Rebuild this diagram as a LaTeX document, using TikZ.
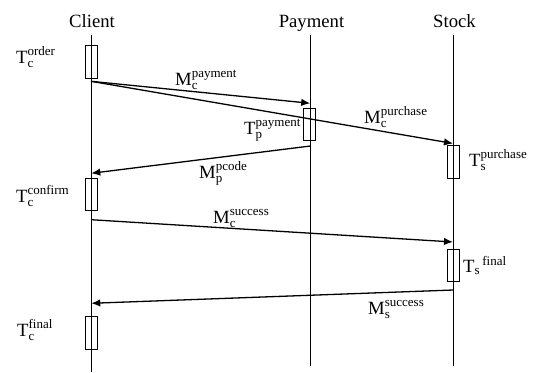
\documentclass[tikz,border=0pt]{standalone}
\usepackage{amsmath}
\usepackage{fontspec}
\setmainfont{Liberation Serif}
\usetikzlibrary{arrows.meta}
\DeclareMathSizes{18.7}{18.7}{13}{10}
\newcommand{\lbl}[3]{$\text{#1}_{\text{#2}}^{\text{#3}}$}
\newcommand{\lblsep}[3]{$\text{#1}_{\text{#2}}{}^{\text{#3}}$}
\tikzset{
  txt/.style={font=\fontsize{18.7}{22}\selectfont, inner sep=0pt, anchor=base west},
  title/.style={font=\fontsize{18.7}{22}\selectfont, inner sep=0pt, anchor=base},
  life/.style={line width=0.9pt},
  act/.style={draw, line width=0.9pt, minimum width=12pt, minimum height=32.5pt, inner sep=0pt},
  msg/.style={line width=1.3pt, -{Latex[length=9pt,width=7.5pt]}, shorten >=0.3pt}
}
\begin{document}
\begin{tikzpicture}[x=1pt,y=-1pt]
\useasboundingbox (0,0) rectangle (534,372);

% participants
\node[title] (client)  at (92,27.3)  {Client};
\node[title] (payment) at (311.5,27.3) {Payment};
\node[title] (stock)   at (454.5,27.3) {Stock};

% lifelines
\coordinate (cTop) at (91,35);    \coordinate (cBot) at (91,372);
\coordinate (pTop) at (310.5,35); \coordinate (pBot) at (310.5,366);
\coordinate (sTop) at (453.3,35); \coordinate (sBot) at (453.3,366);
\draw[life] (cTop) -- (cBot);
\draw[life] (pTop) -- (pBot);
\draw[life] (sTop) -- (sBot);

% activations
\node[act] (tcorder)   at (91,62)      {};
\node[act] (tppay)     at (309.3,124.6) {};
\node[act] (tspurch)   at (453.3,162)  {};
\node[act] (tcconfirm) at (91,194.3)   {};
\node[act] (tsfinal)   at (453.3,265.5) {};
\node[act] (tcfinal)   at (91,333)     {};

% message end points on the lifelines
\coordinate (m1a) at (91,81.3);    \coordinate (m1b) at (310.5,103.3);
\coordinate (m2b) at (453.3,143.5);
\coordinate (m3a) at (310.5,146);  \coordinate (m3b) at (91,173.3);
\coordinate (m4a) at (91,219.7);   \coordinate (m4b) at (453.3,242);
\coordinate (m5a) at (453.3,290);  \coordinate (m5b) at (91,303.3);

% messages
\draw[msg] (m1a) -- (m1b);
\draw[msg] (m1a) -- (m2b);
\draw[msg] (m3a) -- (m3b);
\draw[msg] (m4a) -- (m4b);
\draw[msg] (m5a) -- (m5b);

% labels
\node[txt] (l1)  at (16,63.5)   {\lbl{T}{c}{order}};
\node[txt] (l2)  at (175,85)    {\lbl{M}{c}{payment}};
\node[txt] (l3)  at (244,134.5) {\lbl{T}{p}{payment}};
\node[txt] (l4)  at (364,123)   {\lbl{M}{c}{purchase}};
\node[txt] (l5)  at (469,166.5) {\lbl{T}{s}{purchase}};
\node[txt] (l6)  at (199,178)   {\lbl{M}{p}{pcode}};
\node[txt] (l7)  at (16,202)    {\lbl{T}{c}{confirm}};
\node[txt] (l8)  at (213,223.3) {\lbl{M}{c}{success}};
\node[txt] (l9)  at (463,272)   {\lblsep{T}{s}{\,final}};
\node[txt] (l10) at (368,314.3) {\lbl{M}{s}{success}};
\node[txt] (l11) at (17,336)    {\lbl{T}{c}{final}};
\end{tikzpicture}
\end{document}
